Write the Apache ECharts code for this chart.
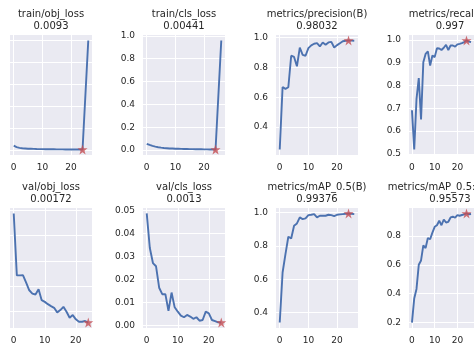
<!DOCTYPE html>
<html>
<head>
<meta charset="utf-8">
<script src="https://cdn.jsdelivr.net/npm/echarts@6/dist/echarts.min.js"></script>
<style>
html,body{margin:0;padding:0;background:#fff;}
#c{width:474px;height:355px;}
</style>
</head>
<body>
<div id="c"></div>
<script>
// ---- data ----
const epochs = [0,1,2,3,4,5,6,7,8,9,10,11,12,13,14,15,16,17,18,19,20,21,22,23,24,25,26];
const valEpochs = [0,1,2,3,4,5,6,7,8,9,10,11,12,13,14,15,16,17,18,19,20,21,22,23,24];

const titles = ["train/obj_loss","train/cls_loss","metrics/precision(B)","metrics/recall(B)",
                "val/obj_loss","val/cls_loss","metrics/mAP_0.5(B)","metrics/mAP_0.5:0.95(B)"];
const titleValues = ["0.0093","0.00441","0.98032","0.997","0.00172","0.0013","0.99376","0.95573"];

const trainObjLoss = [0.045,0.032,0.025,0.021,0.019,0.017,0.016,0.015,0.014,0.0135,0.013,0.0125,0.012,0.0118,0.0115,0.011,0.0108,0.0105,0.0102,0.01,0.0098,0.0097,0.0095,0.0094,0.0093,null,1.0];
const trainClsLoss = [0.055,0.045,0.036,0.03,0.025,0.021,0.018,0.016,0.014,0.013,0.012,0.011,0.010,0.0095,0.009,0.0085,0.008,0.0075,0.007,0.0065,0.006,0.0055,0.005,0.0047,0.00441,null,0.96];
const precision = [0.25,0.669,0.656,0.667,0.878,0.87,0.807,0.933,0.884,0.878,0.929,0.947,0.958,0.962,0.94,0.967,0.951,0.967,0.971,0.933,0.949,0.962,0.975,0.978,0.98032,0.979,0.978];
const recall = [0.691,0.519,0.74,0.832,0.651,0.901,0.938,0.949,0.887,0.931,0.924,0.963,0.962,0.955,0.965,0.978,0.955,0.975,0.975,0.97,0.98,0.982,0.985,0.99,0.997,0.992,0.99];
const valObjLoss = [0.0146,0.00729,0.00729,0.0073,0.00643,0.00553,0.00514,0.00503,0.00565,0.00436,0.00416,0.00389,0.00366,0.00346,0.00292,0.00319,0.00358,0.00299,0.00229,0.0026,0.0021,0.00182,0.00182,0.0019,0.00172];
const valClsLoss = [0.0486,0.0336,0.0271,0.0257,0.0164,0.0136,0.0136,0.0064,0.0143,0.0079,0.006,0.0043,0.0036,0.0046,0.0039,0.0029,0.0036,0.0021,0.0024,0.006,0.0053,0.0024,0.0019,0.0014,0.0013];
const mAP50 = [0.34,0.64,0.75,0.854,0.844,0.92,0.934,0.97,0.96,0.964,0.984,0.986,0.99,0.97,0.98,0.98,0.98,0.986,0.984,0.978,0.986,0.988,0.99,0.992,0.99376,0.992,0.99];
const mAP5095 = [0.2,0.367,0.433,0.6,0.63,0.735,0.716,0.786,0.777,0.823,0.863,0.874,0.905,0.874,0.914,0.893,0.898,0.928,0.933,0.926,0.944,0.94,0.945,0.95,0.95573,0.95,0.952];

const bestEpoch = 24;

const xTicks = [0,10,20];
const yTicksTrainObj = [0,0.2,0.4,0.6,0.8,1.0];
const yTicksTrainCls = [0,0.2,0.4,0.6,0.8,1.0];
const yTicksPrecision = [0.4,0.6,0.8,1.0];
const yTicksRecall = [0.5,0.6,0.7,0.8,0.9,1.0];
const yTicksValObj = [0.003,0.006,0.009,0.012,0.015];
const yTicksValCls = [0,0.01,0.02,0.03,0.04,0.05];
const yTicksMAP50 = [0.4,0.6,0.8,1.0];
const yTicksMAP5095 = [0.2,0.4,0.6,0.8];

// ---- layout / style ----
const colLeft = [10,143,276,409];
const rowTop = [35,208];
const W = 82, H = 120;
const LINE = '#4C72B0', STAR = '#C44E52', BG = '#EAEAF2', TXT = '#262626';
const FONT = 'DejaVu Sans';
const starPath = 'path://M50,0 L61.8,36.2 L100,36.2 L69.1,58.8 L80.9,95.1 L50,72.6 L19.1,95.1 L30.9,58.8 L0,36.2 L38.2,36.2 Z';

const panels = [
  {x: epochs, y: trainObjLoss, yt: yTicksTrainObj, dec: 1, showY: false},
  {x: epochs, y: trainClsLoss, yt: yTicksTrainCls, dec: 1, showY: true},
  {x: epochs, y: precision, yt: yTicksPrecision, dec: 1, showY: true},
  {x: epochs, y: recall, yt: yTicksRecall, dec: 1, showY: true},
  {x: valEpochs, y: valObjLoss, yt: yTicksValObj, dec: 3, showY: false},
  {x: valEpochs, y: valClsLoss, yt: yTicksValCls, dec: 2, showY: true},
  {x: epochs, y: mAP50, yt: yTicksMAP50, dec: 1, showY: true},
  {x: epochs, y: mAP5095, yt: yTicksMAP5095, dec: 1, showY: true}
];

const grid = [], xAxis = [], yAxis = [], series = [], title = [];
panels.forEach((p, i) => {
  const r = Math.floor(i / 4), c = i % 4;
  grid.push({left: colLeft[c], top: rowTop[r], width: W, height: H, show: true,
             backgroundColor: BG, borderWidth: 0, containLabel: false});
  const xs = p.x;
  const xmin = xs[0], xmax = xs[xs.length - 1], xpad = (xmax - xmin) * 0.05;
  const vals = p.y.filter(v => v !== null);
  const ymin = Math.min(...vals), ymax = Math.max(...vals), ypad = (ymax - ymin) * 0.05;
  xAxis.push({type: 'value', gridIndex: i, min: xmin - xpad, max: xmax + xpad,
    axisLine: {show: false}, axisTick: {show: false, customValues: xTicks},
    axisLabel: {customValues: xTicks, color: TXT, fontSize: 9, fontFamily: FONT, margin: 8},
    splitLine: {show: true, lineStyle: {color: '#ffffff', width: 1}}});
  yAxis.push({type: 'value', gridIndex: i, min: ymin - ypad, max: ymax + ypad,
    axisLine: {show: false}, axisTick: {show: false, customValues: p.yt},
    axisLabel: {show: p.showY, customValues: p.yt, color: TXT, fontSize: 9, fontFamily: FONT, margin: 8,
                formatter: v => Number(v).toFixed(p.dec)},
    splitLine: {show: true, lineStyle: {color: '#ffffff', width: 1}}});
  const data = [];
  xs.forEach((x, k) => { if (p.y[k] !== null) data.push([x, p.y[k]]); });
  series.push({type: 'line', xAxisIndex: i, yAxisIndex: i, data: data, showSymbol: false,
    lineStyle: {color: LINE, width: 1.9}, silent: true, animation: false, z: 2});
  const bi = xs.indexOf(bestEpoch);
  series.push({type: 'scatter', xAxisIndex: i, yAxisIndex: i, data: [[bestEpoch, p.y[bi]]],
    symbol: starPath, symbolSize: 10, itemStyle: {color: STAR}, silent: true, animation: false, z: 3});
  title.push({text: titles[i] + '\n' + titleValues[i], left: colLeft[c] + W / 2, top: rowTop[r] - 26,
    textAlign: 'center', padding: 0,
    textStyle: {fontSize: 10, fontWeight: 'normal', color: TXT, fontFamily: FONT, lineHeight: 11.5}});
});

const chart = echarts.init(document.getElementById('c'), null, {renderer: 'canvas'});
chart.setOption({animation: false, backgroundColor: '#ffffff', title, grid, xAxis, yAxis, series});
</script>
</body>
</html>
